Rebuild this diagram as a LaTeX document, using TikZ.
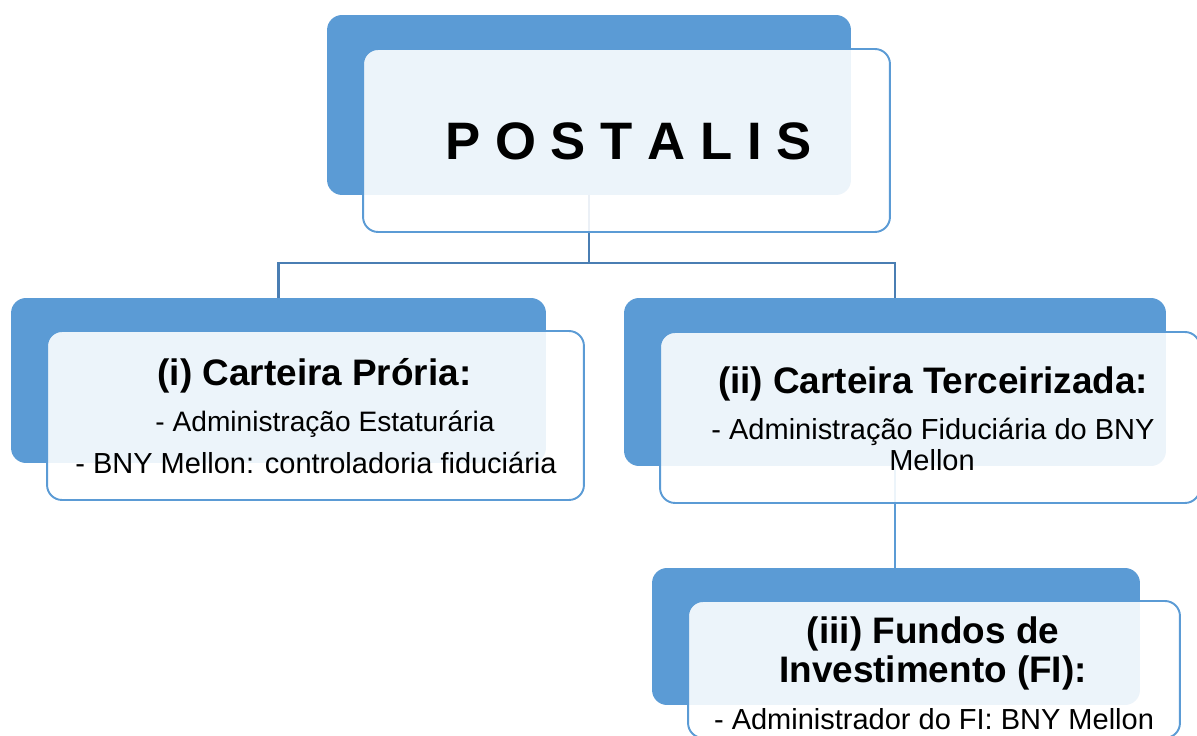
\documentclass[tikz,border=0pt]{standalone}
\usepackage{fontspec}
\setmainfont{Liberation Sans}
\usetikzlibrary{calc}
\definecolor{boxblue}{HTML}{5B9BD5}
\definecolor{lineblue}{HTML}{4A7EB3}
\tikzset{
  back/.style={fill=boxblue, rounded corners=0.3cm, inner sep=0pt, outer sep=0pt},
  front/.style={draw=boxblue, line width=1.1pt, fill=white, fill opacity=0.89, rounded corners=0.3cm, inner sep=0pt, outer sep=0pt},
  conn/.style={draw=lineblue, line width=1.6pt},
  head/.style={font=\fontsize{21}{24}\selectfont\bfseries, anchor=base, inner sep=0pt},
  item/.style={font=\fontsize{16.5}{18}\selectfont, anchor=base, inner sep=0pt},
}

\begin{document}
\begin{tikzpicture}[x=0.02cm, y=-0.02cm]
\useasboundingbox (0,0) rectangle (1197,736);
\clip (0,0) rectangle (1197,736);
\coordinate (bus) at (0,263);

% blue back boxes
\node[back, minimum width=10.48cm, minimum height=3.6cm] (b0) at (589,105) {};
\node[back, minimum width=10.7cm, minimum height=3.3cm] (b1) at (278.5,380.5) {};
\node[back, minimum width=10.84cm, minimum height=3.36cm] (b2) at (895,382) {};
\node[back, minimum width=9.76cm, minimum height=2.74cm] (b3) at (896,636.5) {};

% connectors
\draw[conn] (b0.south) -- (b0.south |- bus) -| (b1.north);
\draw[conn] (b0.south |- bus) -| (b2.north);
\draw[conn, draw=boxblue, line width=1.2pt] (b2.south) -- (b2.south |- b3.north);

% front boxes
\node[front, minimum width=10.54cm, minimum height=3.66cm] (f0) at (626.5,140.5) {};
\node[front, minimum width=10.74cm, minimum height=3.38cm] (f1) at (315.5,415.5) {};
\node[front, minimum width=10.8cm, minimum height=3.42cm] (f2) at (930,417.5) {};
\node[front, minimum width=9.84cm, minimum height=2.74cm] (f3) at (934,669.5) {};

% texts
\node[anchor=base, inner sep=0pt, font=\fontsize{30}{36}\selectfont\bfseries] (t0) at (628.5,160) {P O S T A L I S};

\node[head] (t1) at (314.5,386) {(i) Carteira Prória:};
\node[item, font=\fontsize{16}{18}\selectfont] (t1a) at (325,432) {- Administração Estaturária};
\node[item] (t1b) at (316,474) {- BNY Mellon: controladoria fiduciária};

\node[head] (t2) at (933,394) {(ii) Carteira Terceirizada:};
\node[item] (t2a) at (933,439) {- Administração Fiduciária do BNY};
\node[item] (t2b) at (932,471) {Mellon};

\node[head] (t3) at (933,643) {(iii) Fundos de};
\node[head] (t3b) at (933,682) {Investimento (FI):};
\node[item] (t3a) at (934,729) {- Administrador do FI: BNY Mellon};
\end{tikzpicture}
\end{document}
